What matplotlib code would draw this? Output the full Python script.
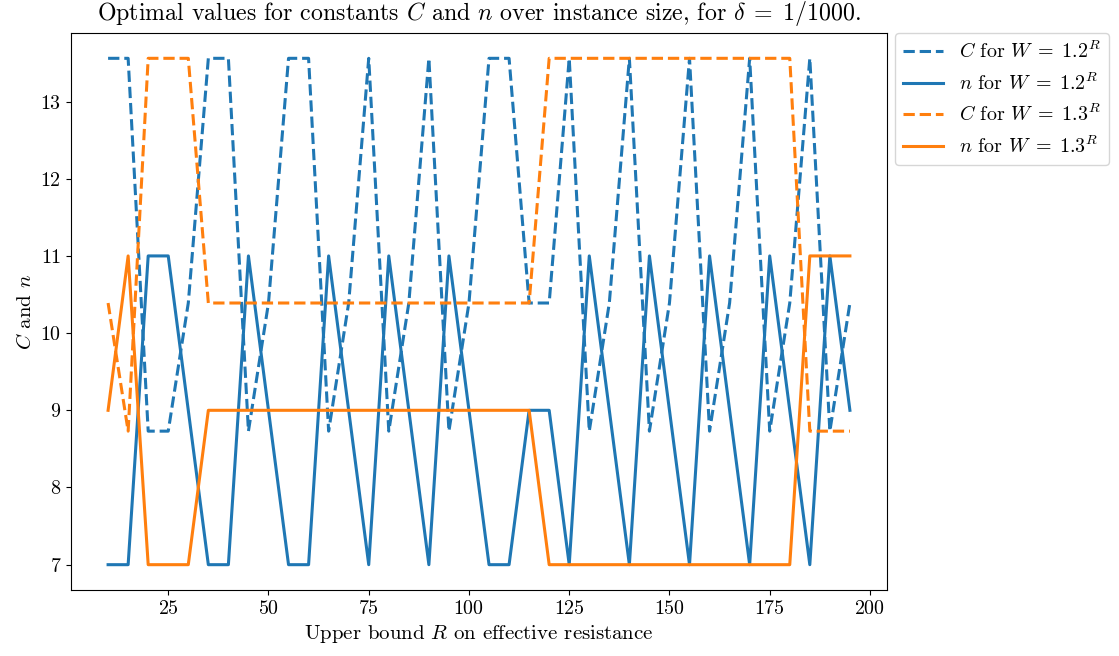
"""Optimal C and n over instance size R."""

import matplotlib
matplotlib.use("Agg")
import matplotlib.pyplot as plt

plt.rcParams['font.family'] = 'serif'
plt.rcParams['font.serif'] = ['cmr10']
plt.rcParams['mathtext.fontset'] = 'cm'
plt.rcParams['axes.formatter.use_mathtext'] = True

R = list(range(10, 200, 5))

# n for W = 1.2^R
n_12 = [7, 7, 11, 11, 9, 7, 7, 11, 9, 7,
        7, 11, 9, 7, 11, 9, 7, 11, 9, 7,
        7, 9, 9, 7, 11, 9, 7, 11, 9, 7,
        11, 9, 7, 11, 9, 7, 11, 9]
# n for W = 1.3^R
n_13 = [9, 11, 7, 7, 7, 9, 9, 9, 9, 9,
        9, 9, 9, 9, 9, 9, 9, 9, 9, 9,
        9, 9, 7, 7, 7, 7, 7, 7, 7, 7,
        7, 7, 7, 7, 7, 11, 11, 11]

# optimal C that goes with each n
C_of_n = {7: 13.56, 9: 10.39, 11: 8.73}
C_12 = [C_of_n[v] for v in n_12]
C_13 = [C_of_n[v] for v in n_13]

blue = '#1f77b4'
orange = '#ff7f0e'
lw = 2.2
fs = 14.4

fig = plt.figure(figsize=(11.19, 6.56), dpi=100)
ax = fig.add_axes([71/1119, 1 - 590/656, 816/1119, 557/656])

ax.plot(R, C_12, '--', color=blue, lw=lw, label=r'$C$ for $W\;=\;1.2^R$')
ax.plot(R, n_12, '-', color=blue, lw=lw, label=r'$n$ for $W\;=\;1.2^R$')
ax.plot(R, C_13, '--', color=orange, lw=lw, label=r'$C$ for $W\;=\;1.3^R$')
ax.plot(R, n_13, '-', color=orange, lw=lw, label=r'$n$ for $W\;=\;1.3^R$')

ax.set_xticks([25, 50, 75, 100, 125, 150, 175, 200])
ax.set_yticks([7, 8, 9, 10, 11, 12, 13])
ax.tick_params(labelsize=fs)
ax.set_xlabel(r'Upper bound $R$ on effective resistance', fontsize=15)
ax.set_ylabel(r'$C$ and $n$', fontsize=15)
fig.text(479/1119, 1 - 20/656,
         r'Optimal values for constants $C$ and $n$ over instance size, for $\delta\;=\;1/1000$.',
         fontsize=17.2, ha='center', va='baseline')
ax.legend(loc='upper left', bbox_to_anchor=(1.01, 1.0), fontsize=fs,
          borderaxespad=0.0)

fig.savefig('out.png', dpi=100)
